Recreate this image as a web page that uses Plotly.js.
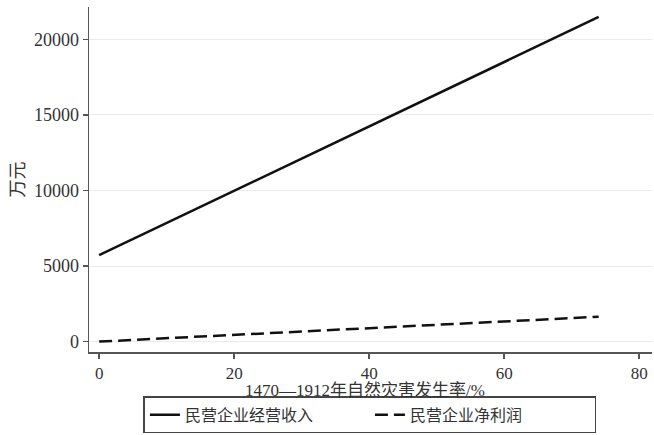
<!DOCTYPE html>
<html>
<head>
<meta charset="utf-8">
<script src="https://cdn.plot.ly/plotly-3.0.1.min.js"></script>
<style>html,body{margin:0;padding:0;background:#fff;}</style>
</head>
<body>
<div id="chart" style="width:654px;height:435px;"></div>
<script>
// Data
var disasterRate = [0, 74];                 // 1470—1912年自然灾害发生率/%
var operatingIncome = [5730, 21480];        // 民营企业经营收入 (万元)
var netProfit = [10, 1650];                 // 民营企业净利润 (万元)
var seriesNames = ['民营企业经营收入', '民营企业净利润'];
var xTitle = '1470—1912年自然灾害发生率/%';
var yTitle = '万元';
var xTicks = [0, 20, 40, 60, 80];
var yTicks = [0, 5000, 10000, 15000, 20000];

var FONT = '"Liberation Serif", "Times New Roman", "Noto Sans CJK SC", serif';

var traces = [
  {x: disasterRate, y: operatingIncome, name: seriesNames[0], mode: 'lines',
   line: {color: '#111', width: 2.5}},
  {x: disasterRate, y: netProfit, name: seriesNames[1], mode: 'lines',
   line: {color: '#111', width: 2.5, dash: '13px,6px'}}
];

var layout = {
  width: 654, height: 435,
  margin: {l: 89, r: 2, t: 7, b: 83},
  paper_bgcolor: '#fff', plot_bgcolor: '#fff',
  font: {family: FONT, size: 18, color: '#333'},
  showlegend: true,
  xaxis: {
    range: [-1.5, 81.9], tickvals: xTicks, ticktext: xTicks.map(String),
    showgrid: false, zeroline: false, automargin: false,
    showline: true, linecolor: '#555', linewidth: 1.5,
    ticks: 'outside', ticklen: 5, tickcolor: '#555', tickwidth: 1.5,
    tickfont: {family: FONT, size: 17, color: '#333'}
  },
  yaxis: {
    range: [-680, 22140], tickvals: yTicks, ticktext: yTicks.map(String),
    showgrid: true, gridcolor: '#ebebeb', gridwidth: 1, zeroline: false,
    showline: true, linecolor: '#555', linewidth: 1.5,
    ticks: 'outside', ticklen: 5, tickcolor: '#555', tickwidth: 1.5,
    tickfont: {family: FONT, size: 18, color: '#333'},
    title: {text: yTitle, standoff: 4, font: {family: FONT, size: 18, color: '#333'}}
  },
  annotations: [{
    text: xTitle, xref: 'paper', yref: 'paper', x: 0.49, y: -0.113,
    xanchor: 'center', yanchor: 'middle', showarrow: false,
    font: {family: FONT, size: 17, color: '#333'}
  }],
  legend: {
    orientation: 'h', xref: 'paper', x: 0.499, xanchor: 'center',
    yref: 'container', y: 0.004, yanchor: 'bottom',
    bordercolor: '#444', borderwidth: 1.5, bgcolor: '#fff',
    font: {family: FONT, size: 16, color: '#333'},
    entrywidth: 180, entrywidthmode: 'pixels', tracegroupgap: 0
  }
};

Plotly.newPlot('chart', traces, layout, {displayModeBar: false, staticPlot: true});
</script>
</body>
</html>
